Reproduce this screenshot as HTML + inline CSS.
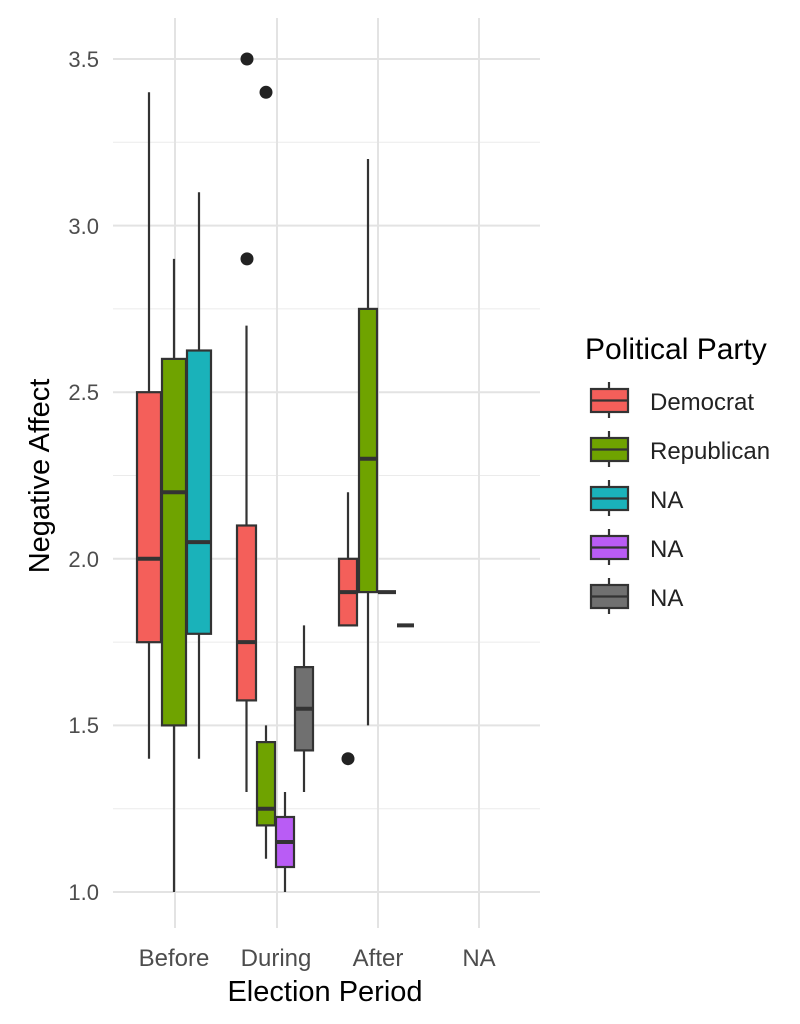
<!DOCTYPE html>
<html><head><meta charset="utf-8"><style>
html,body{margin:0;padding:0;background:#fff;}
svg{display:block;font-family:"Liberation Sans",sans-serif;}
</style></head><body>
<svg width="800" height="1024" viewBox="0 0 800 1024" xmlns="http://www.w3.org/2000/svg">
<rect width="800" height="1024" fill="#fff"/>
<g stroke="#ebebeb" stroke-width="1">
<line x1="113" x2="540" y1="808.7" y2="808.7"/><line x1="113" x2="540" y1="642.1" y2="642.1"/>
<line x1="113" x2="540" y1="475.5" y2="475.5"/><line x1="113" x2="540" y1="308.9" y2="308.9"/>
<line x1="113" x2="540" y1="142.3" y2="142.3"/>
</g>
<g stroke="#e3e3e3" stroke-width="2">
<line x1="113" x2="540" y1="892" y2="892"/><line x1="113" x2="540" y1="725.4" y2="725.4"/>
<line x1="113" x2="540" y1="558.8" y2="558.8"/><line x1="113" x2="540" y1="392.2" y2="392.2"/>
<line x1="113" x2="540" y1="225.6" y2="225.6"/><line x1="113" x2="540" y1="59" y2="59"/>
<line x1="175" x2="175" y1="18" y2="928"/><line x1="277" x2="277" y1="18" y2="928"/>
<line x1="378" x2="378" y1="18" y2="928"/><line x1="479" x2="479" y1="18" y2="928"/>
</g>
<g stroke="#333" stroke-width="2.2">
<line x1="149" x2="149" y1="92.3" y2="758.7"/>
<rect x="137" y="392.2" width="24" height="250" fill="#F45F5A"/>
<line x1="137" x2="161" y1="558.8" y2="558.8" stroke-width="4"/>
<line x1="174" x2="174" y1="258.9" y2="892"/>
<rect x="162" y="358.9" width="24" height="366.5" fill="#6FA300"/>
<line x1="162" x2="186" y1="492.2" y2="492.2" stroke-width="4"/>
<line x1="199" x2="199" y1="192.3" y2="758.7"/>
<rect x="187" y="350.5" width="24" height="283.3" fill="#1AB2BA"/>
<line x1="187" x2="211" y1="542.1" y2="542.1" stroke-width="4"/>
<line x1="246.5" x2="246.5" y1="325.6" y2="792"/>
<rect x="237" y="525.5" width="19" height="174.9" fill="#F45F5A"/>
<line x1="237" x2="256" y1="642.1" y2="642.1" stroke-width="4"/>
<line x1="266" x2="266" y1="725.4" y2="858.7"/>
<rect x="257" y="742.1" width="18" height="83.3" fill="#6FA300"/>
<line x1="257" x2="275" y1="808.7" y2="808.7" stroke-width="4"/>
<line x1="285" x2="285" y1="792" y2="892"/>
<rect x="276" y="817" width="18" height="50" fill="#B95CF5"/>
<line x1="276" x2="294" y1="842" y2="842" stroke-width="4"/>
<line x1="304" x2="304" y1="625.4" y2="792"/>
<rect x="295" y="667.1" width="18" height="83.3" fill="#707070"/>
<line x1="295" x2="313" y1="708.7" y2="708.7" stroke-width="4"/>
<line x1="348" x2="348" y1="492.2" y2="625.4"/>
<rect x="339" y="558.8" width="18" height="66.6" fill="#F45F5A"/>
<line x1="339" x2="357" y1="592.1" y2="592.1" stroke-width="4"/>
<line x1="368" x2="368" y1="159" y2="725.4"/>
<rect x="359" y="308.9" width="18" height="283.2" fill="#6FA300"/>
<line x1="359" x2="377" y1="458.8" y2="458.8" stroke-width="4"/>
<line x1="378" x2="396" y1="592.1" y2="592.1" stroke-width="4"/>
<line x1="397" x2="414" y1="625.4" y2="625.4" stroke-width="4"/>
</g>
<g fill="#222">
<circle cx="247" cy="59" r="6.5"/><circle cx="247" cy="258.9" r="6.5"/>
<circle cx="266" cy="92.3" r="6.5"/><circle cx="348" cy="758.7" r="6.5"/>
</g>
<g font-size="22" fill="#4d4d4d" text-anchor="end">
<text x="99" y="900">1.0</text><text x="99" y="733">1.5</text>
<text x="99" y="567">2.0</text><text x="99" y="400">2.5</text>
<text x="99" y="234">3.0</text><text x="99" y="67">3.5</text>
</g>
<g font-size="24" fill="#4d4d4d" text-anchor="middle">
<text x="174" y="966">Before</text><text x="276" y="966">During</text>
<text x="378" y="966">After</text><text x="479" y="966">NA</text>
</g>
<text x="325" y="1001" font-size="29" text-anchor="middle" fill="#000">Election Period</text>
<text transform="translate(49,476) rotate(-90)" font-size="29" text-anchor="middle" fill="#000">Negative Affect</text>
<text x="585" y="359" font-size="30" fill="#000">Political Party</text>
<g stroke="#333" stroke-width="2.2">
<line x1="609" x2="609" y1="382" y2="418"/><rect x="591" y="389" width="37" height="23" fill="#F45F5A"/><line x1="591" x2="628" y1="400.5" y2="400.5"/>
<line x1="609" x2="609" y1="431" y2="467"/><rect x="591" y="438" width="37" height="23" fill="#6FA300"/><line x1="591" x2="628" y1="449.5" y2="449.5"/>
<line x1="609" x2="609" y1="480" y2="516"/><rect x="591" y="487" width="37" height="23" fill="#1AB2BA"/><line x1="591" x2="628" y1="498.5" y2="498.5"/>
<line x1="609" x2="609" y1="529" y2="565"/><rect x="591" y="536" width="37" height="23" fill="#B95CF5"/><line x1="591" x2="628" y1="547.5" y2="547.5"/>
<line x1="609" x2="609" y1="578" y2="614"/><rect x="591" y="585" width="37" height="23" fill="#707070"/><line x1="591" x2="628" y1="596.5" y2="596.5"/>
</g>
<g font-size="24" fill="#222">
<text x="650" y="410">Democrat</text><text x="650" y="459">Republican</text>
<text x="650" y="508">NA</text><text x="650" y="557">NA</text><text x="650" y="606">NA</text>
</g>
</svg>
</body></html>
